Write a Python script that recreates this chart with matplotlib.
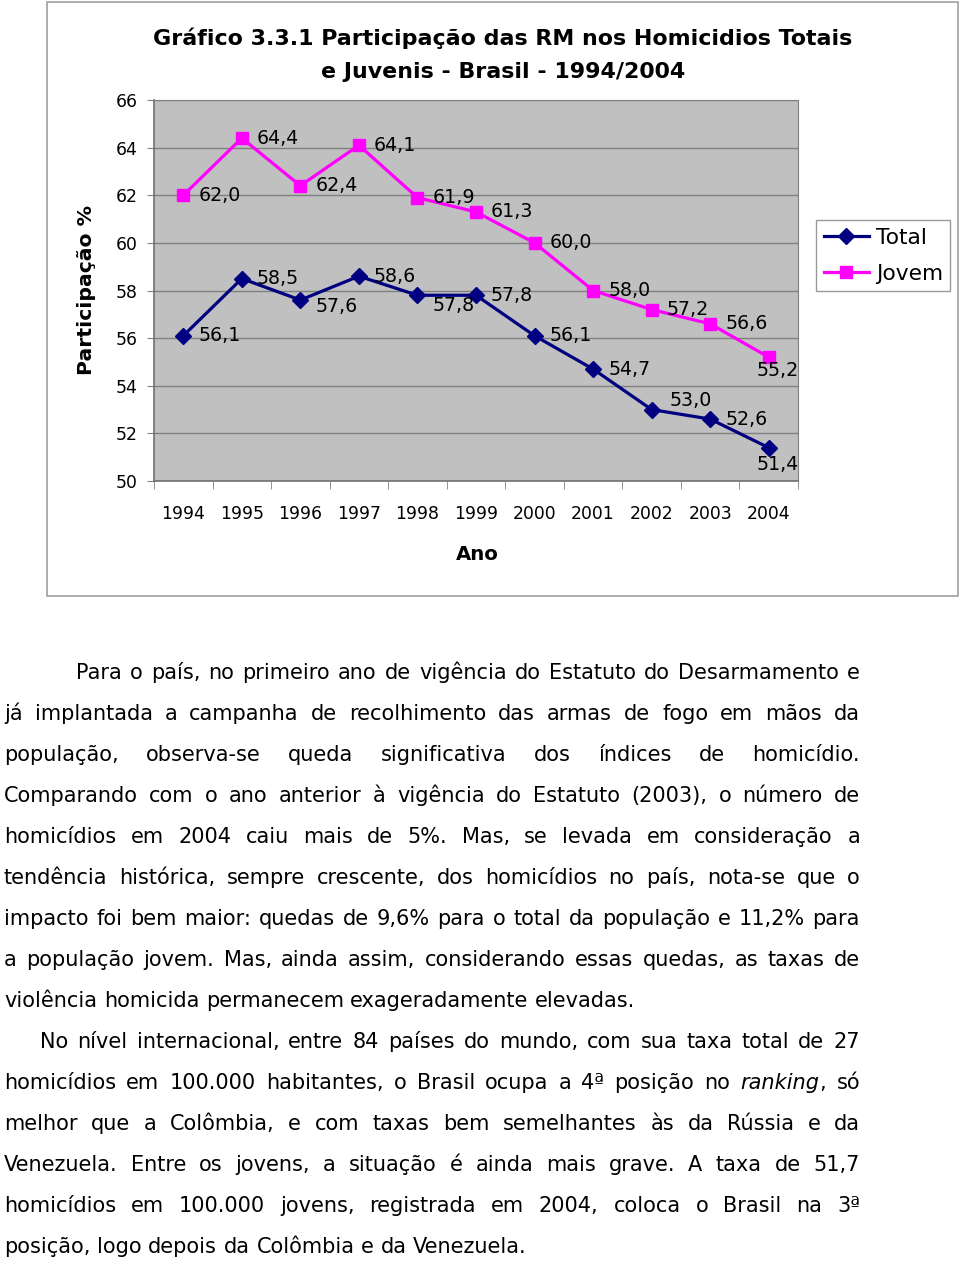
import matplotlib
matplotlib.use('Agg')
import matplotlib.pyplot as plt
from matplotlib.patches import Rectangle
from matplotlib.lines import Line2D

plt.rcParams['font.family'] = ['DejaVu Sans']

anos = ['1994', '1995', '1996', '1997', '1998', '1999', '2000', '2001', '2002', '2003', '2004']
total = [56.1, 58.5, 57.6, 58.6, 57.8, 57.8, 56.1, 54.7, 53.0, 52.6, 51.4]
jovem = [62.0, 64.4, 62.4, 64.1, 61.9, 61.3, 60.0, 58.0, 57.2, 56.6, 55.2]
yticks = [50, 52, 54, 56, 58, 60, 62, 64, 66]

# label offsets in pixels (dx, dy)
off_total = [(15, 0)] * 11
off_total[2] = (15, -6)
off_total[4] = (15, -10)
off_total[8] = (18, 9)
off_total[10] = (-12, -17)
off_jovem = [(15, 0)] * 11
off_jovem[10] = (-12, -13)

W, H = 960, 1265
fig = plt.figure(figsize=(W / 100, H / 100), dpi=100)
r = fig.canvas.get_renderer()

def fx(px):
    return px / W

def fy(py):
    return 1 - py / H

def width(t, size, style='normal', weight='normal'):
    tt = fig.text(0, 0, t, fontsize=size, style=style, fontweight=weight)
    w = tt.get_window_extent(r).width
    tt.remove()
    return w

def fit(t, target, weight='normal'):
    return 10 * target / width(t, 10, weight=weight)

# outer chart frame
fig.patches.append(Rectangle((fx(47), fy(596)), fx(958) - fx(47), fy(2) - fy(596),
                             transform=fig.transFigure, fill=False, ec='#a0a0a0', lw=1.2))

ax = fig.add_axes([fx(154), fy(481), fx(798) - fx(154), fy(100) - fy(481)])
ax.set_facecolor('#c0c0c0')
x = list(range(len(anos)))
ax.plot(x, total, color='#000080', lw=2.3, marker='D', ms=8.5, zorder=3)
ax.plot(x, jovem, color='#ff00ff', lw=2.3, marker='s', ms=9, zorder=3)

lab_fs = fit('62,0', 42)
for i in x:
    dx, dy = off_total[i]
    ax.annotate(f'{total[i]:.1f}'.replace('.', ','), (i, total[i]), xytext=(dx * 0.72, dy * 0.72),
                textcoords='offset points', ha='left', va='center', fontsize=lab_fs)
    dx, dy = off_jovem[i]
    ax.annotate(f'{jovem[i]:.1f}'.replace('.', ','), (i, jovem[i]), xytext=(dx * 0.72, dy * 0.72),
                textcoords='offset points', ha='left', va='center', fontsize=lab_fs)

tick_fs = fit('1994', 44)
ax.set_xlim(-0.5, 10.5)
ax.set_ylim(50, 66)
ax.set_yticks(yticks)
ax.set_yticklabels([str(v) for v in yticks], fontsize=tick_fs)
ax.set_xticks(x)
ax.set_xticklabels(anos, fontsize=tick_fs)
ax.set_xticks([i - 0.5 for i in range(len(anos) + 1)], minor=True)
ax.tick_params(axis='x', which='major', length=0, pad=17)
ax.tick_params(axis='x', which='minor', length=6, color='#808080', direction='out')
ax.tick_params(axis='y', length=5, color='#808080', pad=7)
ax.grid(axis='y', color='#808080', lw=1)
ax.set_axisbelow(True)
for s in ['top', 'right']:
    ax.spines[s].set_color('#808080')
for s in ['left', 'bottom']:
    ax.spines[s].set_color('#707070')
    ax.spines[s].set_linewidth(1.2)

fig.text(fx(477), fy(555), 'Ano', ha='center', va='center',
         fontsize=fit('Ano', 43, 'bold'), fontweight='bold')
fig.text(fx(87), fy(290), 'Participação %', ha='center', va='center', rotation=90,
         fontsize=fit('Participação %', 170, 'bold'), fontweight='bold')

t1 = 'Gráfico 3.3.1 Participação das RM nos Homicidios Totais'
title_fs = fit(t1, 700, 'bold')
fig.text(fx(503), fy(38), t1, ha='center', va='center', fontsize=title_fs, fontweight='bold')
fig.text(fx(503), fy(72), 'e Juvenis - Brasil - 1994/2004',
         ha='center', va='center', fontsize=title_fs, fontweight='bold')

handles = [Line2D([], [], color='#000080', lw=2.3, marker='D', ms=8.5),
           Line2D([], [], color='#ff00ff', lw=2.3, marker='s', ms=9)]
fig.legend(handles, ['Total', 'Jovem'], loc='upper left', bbox_to_anchor=(fx(816), fy(220)),
           fontsize=fit('Total', 51), frameon=True, fancybox=False, edgecolor='#808080',
           handlelength=2.1, borderpad=0.35, labelspacing=0.75, handletextpad=0.3,
           borderaxespad=0)

# body text
linhas = [
    ('Para o país, no primeiro ano de vigência do Estatuto do Desarmamento e', 76, True),
    ('já implantada a campanha de recolhimento das armas de fogo em mãos da', 4, True),
    ('população, observa-se queda significativa dos índices de homicídio.', 4, True),
    ('Comparando com o ano anterior à vigência do Estatuto (2003), o número de', 4, True),
    ('homicídios em 2004 caiu mais de 5%.  Mas, se levada em consideração a', 4, True),
    ('tendência histórica, sempre crescente, dos homicídios no país, nota-se que o', 4, True),
    ('impacto foi bem maior: quedas de 9,6% para o total da população e 11,2% para', 4, True),
    ('a população jovem. Mas, ainda assim, considerando essas quedas, as taxas de', 4, True),
    ('violência homicida permanecem exageradamente elevadas.', 4, False),
    ('No nível internacional, entre 84 países do mundo, com sua taxa total de 27', 40, True),
    ('homicídios em 100.000 habitantes, o Brasil ocupa a 4ª posição no *ranking*, só', 4, True),
    ('melhor que a Colômbia, e com taxas bem semelhantes às da Rússia e da', 4, True),
    ('Venezuela. Entre os jovens, a situação é ainda mais grave. A taxa de 51,7', 4, True),
    ('homicídios em 100.000 jovens, registrada em 2004, coloca o Brasil na 3ª', 4, True),
    ('posição, logo depois da Colômbia e da Venezuela.', 4, False),
]

fs = fit('violência homicida permanecem exageradamente elevadas.', 633)
space = width('x x', fs) - width('xx', fs)
right = 860
for k, (linha, left, just) in enumerate(linhas):
    pieces = []
    for w in linha.split():
        if w.startswith('*'):
            a, b = w[1:].split('*')
            pieces.append([(a, 'italic'), (b, 'normal')])
        else:
            pieces.append([(w, 'normal')])
    widths = [sum(width(t, fs, s) for t, s in p) for p in pieces]
    gap = space
    if just and len(pieces) > 1:
        gap = (right - left - sum(widths)) / (len(pieces) - 1)
    xp = left
    yb = fy(679 + 41 * k)
    for p, wd in zip(pieces, widths):
        xx = xp
        for t, s in p:
            fig.text(fx(xx), yb, t, fontsize=fs, style=s, va='baseline', ha='left')
            xx += width(t, fs, s)
        xp += wd + gap

fig.savefig('out.png', dpi=100)
